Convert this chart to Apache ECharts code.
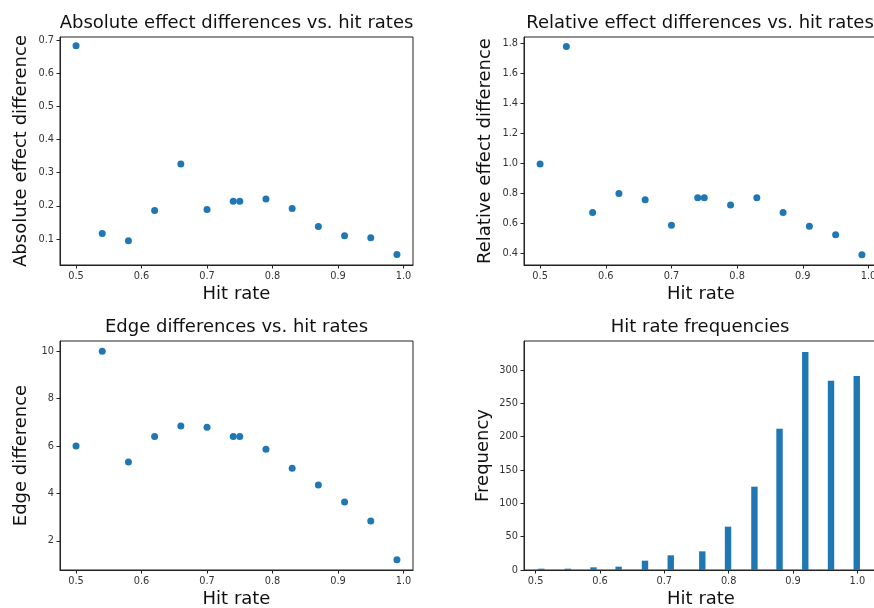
<!DOCTYPE html>
<html lang="en">
<head>
    <meta charset="UTF-8">
    <title>Hit rate effects</title>
    <script src="https://cdn.jsdelivr.net/npm/echarts@6/dist/echarts.min.js"></script>
</head>
<body style="margin:0">
<div id="my" style="width: 874px;height: 608px;"></div>
<script>
    // hit rates shared by the three scatter panels
    var hitRates = [0.50, 0.54, 0.58, 0.62, 0.66, 0.70, 0.74, 0.75, 0.79, 0.83, 0.87, 0.91, 0.95, 0.99]
    var absDiff = [0.683, 0.117, 0.095, 0.186, 0.326, 0.189, 0.214, 0.214, 0.221, 0.192, 0.138, 0.110, 0.104, 0.053]
    var relDiff = [0.995, 1.777, 0.672, 0.798, 0.756, 0.587, 0.770, 0.770, 0.721, 0.770, 0.672, 0.580, 0.524, 0.391]
    var edgeDiff = [6.0, 10.0, 5.33, 6.4, 6.84, 6.79, 6.4, 6.4, 5.86, 5.06, 4.36, 3.64, 2.84, 1.2]
    // histogram bins (centers) and counts
    var binCenters = [0.509, 0.550, 0.590, 0.629, 0.670, 0.710, 0.759, 0.799, 0.840, 0.879, 0.919, 0.959, 0.999]
    var binCounts = [2, 2, 4, 5, 14, 22, 28, 65, 125, 212, 327, 284, 291]
    // tick labels
    var xTicks = [0.5, 0.6, 0.7, 0.8, 0.9, 1.0]
    var absTicks = [0.1, 0.2, 0.3, 0.4, 0.5, 0.6, 0.7]
    var relTicks = [0.4, 0.6, 0.8, 1.0, 1.2, 1.4, 1.6, 1.8]
    var edgeTicks = [2, 4, 6, 8, 10]
    var freqTicks = [0, 50, 100, 150, 200, 250, 300]

    var font = 'DejaVu Sans'
    var blue = '#1f77b4'

    function pairs(xs, ys) {
        return xs.map(function (x, i) { return [x, ys[i]] })
    }

    function xAxisOf(idx, min, max) {
        return {
            type: 'value', gridIndex: idx, min: min, max: max,
            name: 'Hit rate', nameLocation: 'middle', nameGap: 20,
            nameTextStyle: {fontFamily: font, fontSize: 18, color: '#111'},
            splitLine: {show: false},
            axisLine: {onZero: false, lineStyle: {color: '#222'}},
            axisTick: {customValues: xTicks, length: 3.5, lineStyle: {color: '#222'}},
            axisLabel: {customValues: xTicks, fontFamily: font, fontSize: 9.8, color: '#333', margin: 6,
                formatter: function (v) { return v.toFixed(1) }}
        }
    }

    function yAxisOf(idx, min, max, ticks, name, gap, fmt) {
        return {
            type: 'value', gridIndex: idx, min: min, max: max,
            name: name, nameLocation: 'middle', nameGap: gap,
            nameTextStyle: {fontFamily: font, fontSize: 18, color: '#111'},
            splitLine: {show: false},
            axisLine: {onZero: false, lineStyle: {color: '#222'}},
            axisTick: {customValues: ticks, length: 3.5, lineStyle: {color: '#222'}},
            axisLabel: {customValues: ticks, fontFamily: font, fontSize: 9.8, color: '#333', margin: 6,
                formatter: fmt}
        }
    }

    function titleOf(text, x, y) {
        return {text: text, left: x, top: y, textAlign: 'center', padding: 0,
            textStyle: {fontFamily: font, fontSize: 18, fontWeight: 'normal', color: '#111'}}
    }

    function gridOf(left, top, width, height) {
        return {left: left, top: top, width: width, height: height, outerBoundsMode: 'none',
            show: true, borderColor: '#222', borderWidth: 1}
    }

    var oneDec = function (v) { return v.toFixed(1) }
    var intFmt = function (v) { return String(Math.round(v)) }

    var mCharts = echarts.init(document.getElementById('my'), null, {renderer: 'canvas'})
    var option = {
        backgroundColor: '#fff',
        animation: false,
        title: [
            titleOf('Absolute effect differences vs. hit rates', 236.5, 14),
            titleOf('Relative effect differences vs. hit rates', 700, 14),
            titleOf('Edge differences vs. hit rates', 236.5, 318),
            titleOf('Hit rate frequencies', 700, 318)
        ],
        grid: [
            gridOf(60, 37, 353, 228),
            gridOf(524, 37, 354, 228),
            gridOf(60, 341, 353, 229),
            gridOf(524, 341, 354, 229)
        ],
        xAxis: [
            xAxisOf(0, 0.4755, 1.0145),
            xAxisOf(1, 0.4755, 1.0145),
            xAxisOf(2, 0.4755, 1.0145),
            xAxisOf(3, 0.482, 1.032)
        ],
        yAxis: [
            yAxisOf(0, 0.0216, 0.7095, absTicks, 'Absolute effect difference', 30, oneDec),
            yAxisOf(1, 0.322, 1.840, relTicks, 'Relative effect difference', 30, oneDec),
            yAxisOf(2, 0.77, 10.43, edgeTicks, 'Edge difference', 30, intFmt),
            yAxisOf(3, 0, 343.5, freqTicks, 'Frequency', 32, intFmt)
        ],
        series: [
            {type: 'scatter', xAxisIndex: 0, yAxisIndex: 0, data: pairs(hitRates, absDiff),
                symbolSize: 7, itemStyle: {color: blue, opacity: 1}},
            {type: 'scatter', xAxisIndex: 1, yAxisIndex: 1, data: pairs(hitRates, relDiff),
                symbolSize: 7, itemStyle: {color: blue, opacity: 1}},
            {type: 'scatter', xAxisIndex: 2, yAxisIndex: 2, data: pairs(hitRates, edgeDiff),
                symbolSize: 7, itemStyle: {color: blue, opacity: 1}},
            {type: 'bar', xAxisIndex: 3, yAxisIndex: 3, data: pairs(binCenters, binCounts),
                barWidth: 6.4, itemStyle: {color: blue}}
        ]
    }
    mCharts.setOption(option)
</script>
</body>
</html>
